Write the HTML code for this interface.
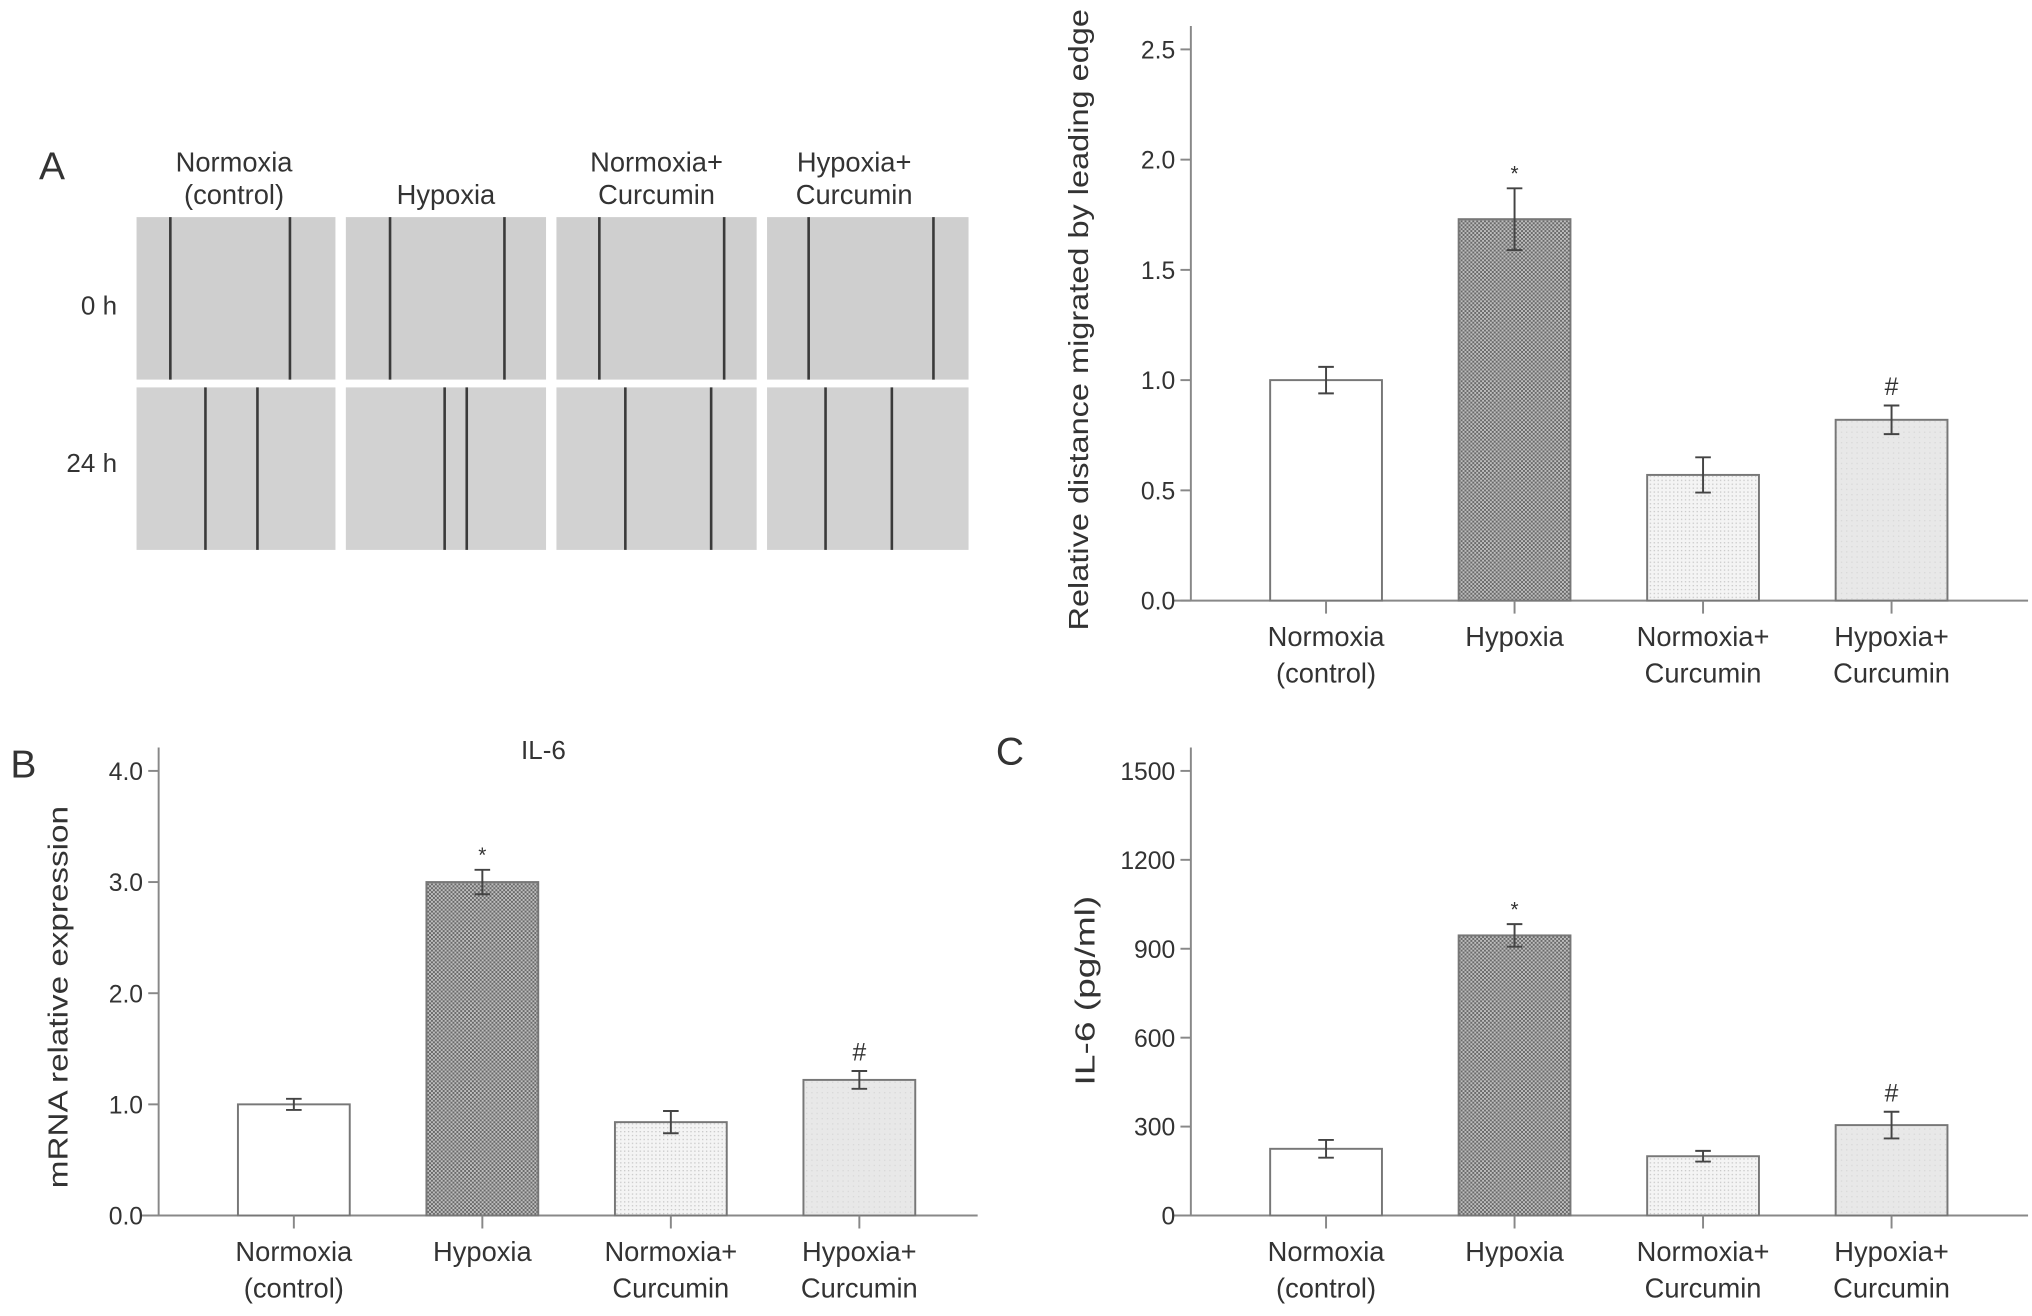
<!DOCTYPE html>
<html><head><meta charset="utf-8"><style>
html,body{margin:0;padding:0;background:#fff}
svg{display:block}
text{font-family:"Liberation Sans",sans-serif;fill:#333}
</style></head><body>
<svg id="fig" width="2032" height="1316" viewBox="0 0 1563 1012.3" xmlns="http://www.w3.org/2000/svg">
<defs>
<pattern id="pHyp" width="3" height="3" patternUnits="userSpaceOnUse"><rect width="3" height="3" fill="#bdbdbd"/><rect width="1.5" height="1.5" fill="#6a6a6a"/><rect x="1.5" y="1.5" width="1.5" height="1.5" fill="#6a6a6a"/></pattern>
<pattern id="pNC" width="3" height="3" patternUnits="userSpaceOnUse"><rect width="3" height="3" fill="#f4f4f4"/><rect width="1" height="1" fill="#c8c8c8"/></pattern>
<pattern id="pHC" width="4" height="4" patternUnits="userSpaceOnUse"><rect width="4" height="4" fill="#e8e8e8"/><rect width="1" height="1" fill="#d8d8d8"/></pattern>
</defs>
<g id="panelA">
<text x="30" y="138" font-size="30">A</text>
<text x="180" y="132" font-size="21" text-anchor="middle">Normoxia</text>
<text x="180" y="157" font-size="21" text-anchor="middle">(control)</text>
<text x="343" y="157" font-size="21" text-anchor="middle">Hypoxia</text>
<text x="505" y="132" font-size="21" text-anchor="middle">Normoxia+</text>
<text x="505" y="157" font-size="21" text-anchor="middle">Curcumin</text>
<text x="657" y="132" font-size="21" text-anchor="middle">Hypoxia+</text>
<text x="657" y="157" font-size="21" text-anchor="middle">Curcumin</text>
<text x="90" y="242" font-size="20" text-anchor="end">0 h</text>
<text x="90" y="363" font-size="20" text-anchor="end">24 h</text>
</g>
<g id="chartA"></g>
<g id="chartB"></g>
<g id="chartC"></g>
</svg>
<script>
const categories = ["Normoxia|(control)", "Hypoxia", "Normoxia+|Curcumin", "Hypoxia+|Curcumin"];
const migrationValues = [1.0, 1.73, 0.57, 0.82];
const migrationErrors = [0.06, 0.14, 0.08, 0.065];
const migrationMarks = ["", "*", "", "#"];
const migrationTicks = ["0.0", "0.5", "1.0", "1.5", "2.0", "2.5"];
const mrnaValues = [1.0, 3.0, 0.84, 1.22];
const mrnaErrors = [0.05, 0.11, 0.1, 0.08];
const mrnaMarks = ["", "*", "", "#"];
const mrnaTicks = ["0.0", "1.0", "2.0", "3.0", "4.0"];
const elisaValues = [225, 945, 200, 305];
const elisaErrors = [30, 38, 18, 45];
const elisaMarks = ["", "*", "", "#"];
const elisaTicks = ["0", "300", "600", "900", "1200", "1500"];

const NS = "http://www.w3.org/2000/svg";
function mk(parent, tag, attrs, txt) {
  const e = document.createElementNS(NS, tag);
  for (const k in attrs) e.setAttribute(k, attrs[k]);
  if (txt !== undefined) e.textContent = txt;
  parent.appendChild(e);
  return e;
}
const fills = ["#ffffff", "url(#pHyp)", "url(#pNC)", "url(#pHC)"];

const pa = document.getElementById('panelA');
const colX = [105, 266, 428, 590], colW = [153, 154, 154, 155];
const rowY = [167, 298], rowH = 125;
const lines = [[[131,223],[158,198]],[[300,388],[342,359]],[[461,557],[481,547]],[[622,718],[635,686]]];
for (let c = 0; c < 4; c++) for (let r = 0; r < 2; r++) {
  const g = mk(pa, 'g', {});
  
  
  mk(g, 'rect', {x: colX[c], y: rowY[r], width: colW[c], height: rowH, fill: r ? '#d2d2d2' : '#cfcfcf'});
  lines[c][r].forEach(x => mk(g, 'line', {x1: x, x2: x, y1: rowY[r], y2: rowY[r] + rowH, stroke: '#3a3a3a', 'stroke-width': 2}));
}

function drawChart(id, o) {
  const g = document.getElementById(id);
  const y = v => o.y0 - (v - o.min) / (o.max - o.min) * (o.y0 - o.y1);
  const centers = [0,1,2,3].map(i => o.c0 + i * o.step);
  const ya = mk(g, 'line', {x1: o.ax, x2: o.ax, y1: o.y1 - 18, y2: o.y0, stroke: '#888', 'stroke-width': 1.5});
  
  
  const xa = mk(g, 'line', {x1: o.ax - 14, x2: o.axEnd, y1: o.y0, y2: o.y0, stroke: '#888', 'stroke-width': 1.5});
  
  
  o.ticks.forEach(t => {
    const v = parseFloat(t), yy = y(v);
    mk(g, 'line', {x1: o.ax - 8, x2: o.ax, y1: yy, y2: yy, stroke: '#888', 'stroke-width': 1.5});
    const tl = mk(g, 'text', {x: o.ax - 12, y: yy + 7, 'font-size': 19, 'text-anchor': 'end'}, t);
    
    
  });
  const yl = mk(g, 'text', {x: 0, y: 0, 'font-size': 21, 'text-anchor': 'middle', textLength: o.ylen, lengthAdjust: 'spacingAndGlyphs', transform: `translate(${o.ylx},${o.yly}) rotate(-90)`}, o.ylabel);
  
  
  o.values.forEach((v, i) => {
    const cx = centers[i], top = y(v);
    const b = mk(g, 'rect', {x: cx - 43, y: top, width: 86, height: o.y0 - top, fill: fills[i], stroke: '#777', 'stroke-width': 1.5});
    
    
    const e = o.errors[i], hi = y(v + e), lo = y(v - e);
    const eb = mk(g, 'path', {d: `M${cx},${hi}V${lo}M${cx-6},${hi}H${cx+6}M${cx-6},${lo}H${cx+6}`, stroke: '#444', 'stroke-width': 1.5, fill: 'none'});
    
    
    if (o.marks[i]) {
      const m = mk(g, 'text', {x: cx, y: hi - (o.marks[i] === '*' ? 6 : 8), 'font-size': o.marks[i] === '*' ? 16 : 19, 'text-anchor': 'middle'}, o.marks[i]);
      
      
    }
    mk(g, 'line', {x1: cx, x2: cx, y1: o.y0, y2: o.y0 + 10, stroke: '#888', 'stroke-width': 1.5});
    const parts = categories[i].split('|');
    parts.forEach((p, k) => {
      const cl = mk(g, 'text', {x: cx, y: o.y0 + 35 + k * 28, 'font-size': 21, 'text-anchor': 'middle'}, p);
      
      
    });
  });
  if (o.title) {
    const t = mk(g, 'text', {x: o.title[1], y: o.title[2], 'font-size': 20, 'text-anchor': 'middle'}, o.title[0]);
    
    
  }
  if (o.panel) {
    const t = mk(g, 'text', {x: o.panel[1], y: o.panel[2], 'font-size': 30}, o.panel[0]);
    
    
  }
}
drawChart('chartA', {ax: 916, axEnd: 1560, y0: 462, y1: 38, min: 0, max: 2.5, c0: 1020, step: 145,
  values: migrationValues, errors: migrationErrors, marks: migrationMarks, ticks: migrationTicks,
  ylabel: 'Relative distance migrated by leading edge', ylx: 837, yly: 246, ylen: 478});
drawChart('chartB', {ax: 122, axEnd: 752, y0: 935, y1: 593, min: 0, max: 4, c0: 226, step: 145,
  values: mrnaValues, errors: mrnaErrors, marks: mrnaMarks, ticks: mrnaTicks,
  ylabel: 'mRNA relative expression', ylx: 52, yly: 767, ylen: 294, title: ['IL-6', 418, 584], panel: ['B', 8, 598]});
drawChart('chartC', {ax: 916, axEnd: 1560, y0: 935, y1: 593, min: 0, max: 1500, c0: 1020, step: 145,
  values: elisaValues, errors: elisaErrors, marks: elisaMarks, ticks: elisaTicks,
  ylabel: 'IL-6 (pg/ml)', ylx: 842, yly: 762, ylen: 146, panel: ['C', 766, 588]});
</script>
</body></html>
